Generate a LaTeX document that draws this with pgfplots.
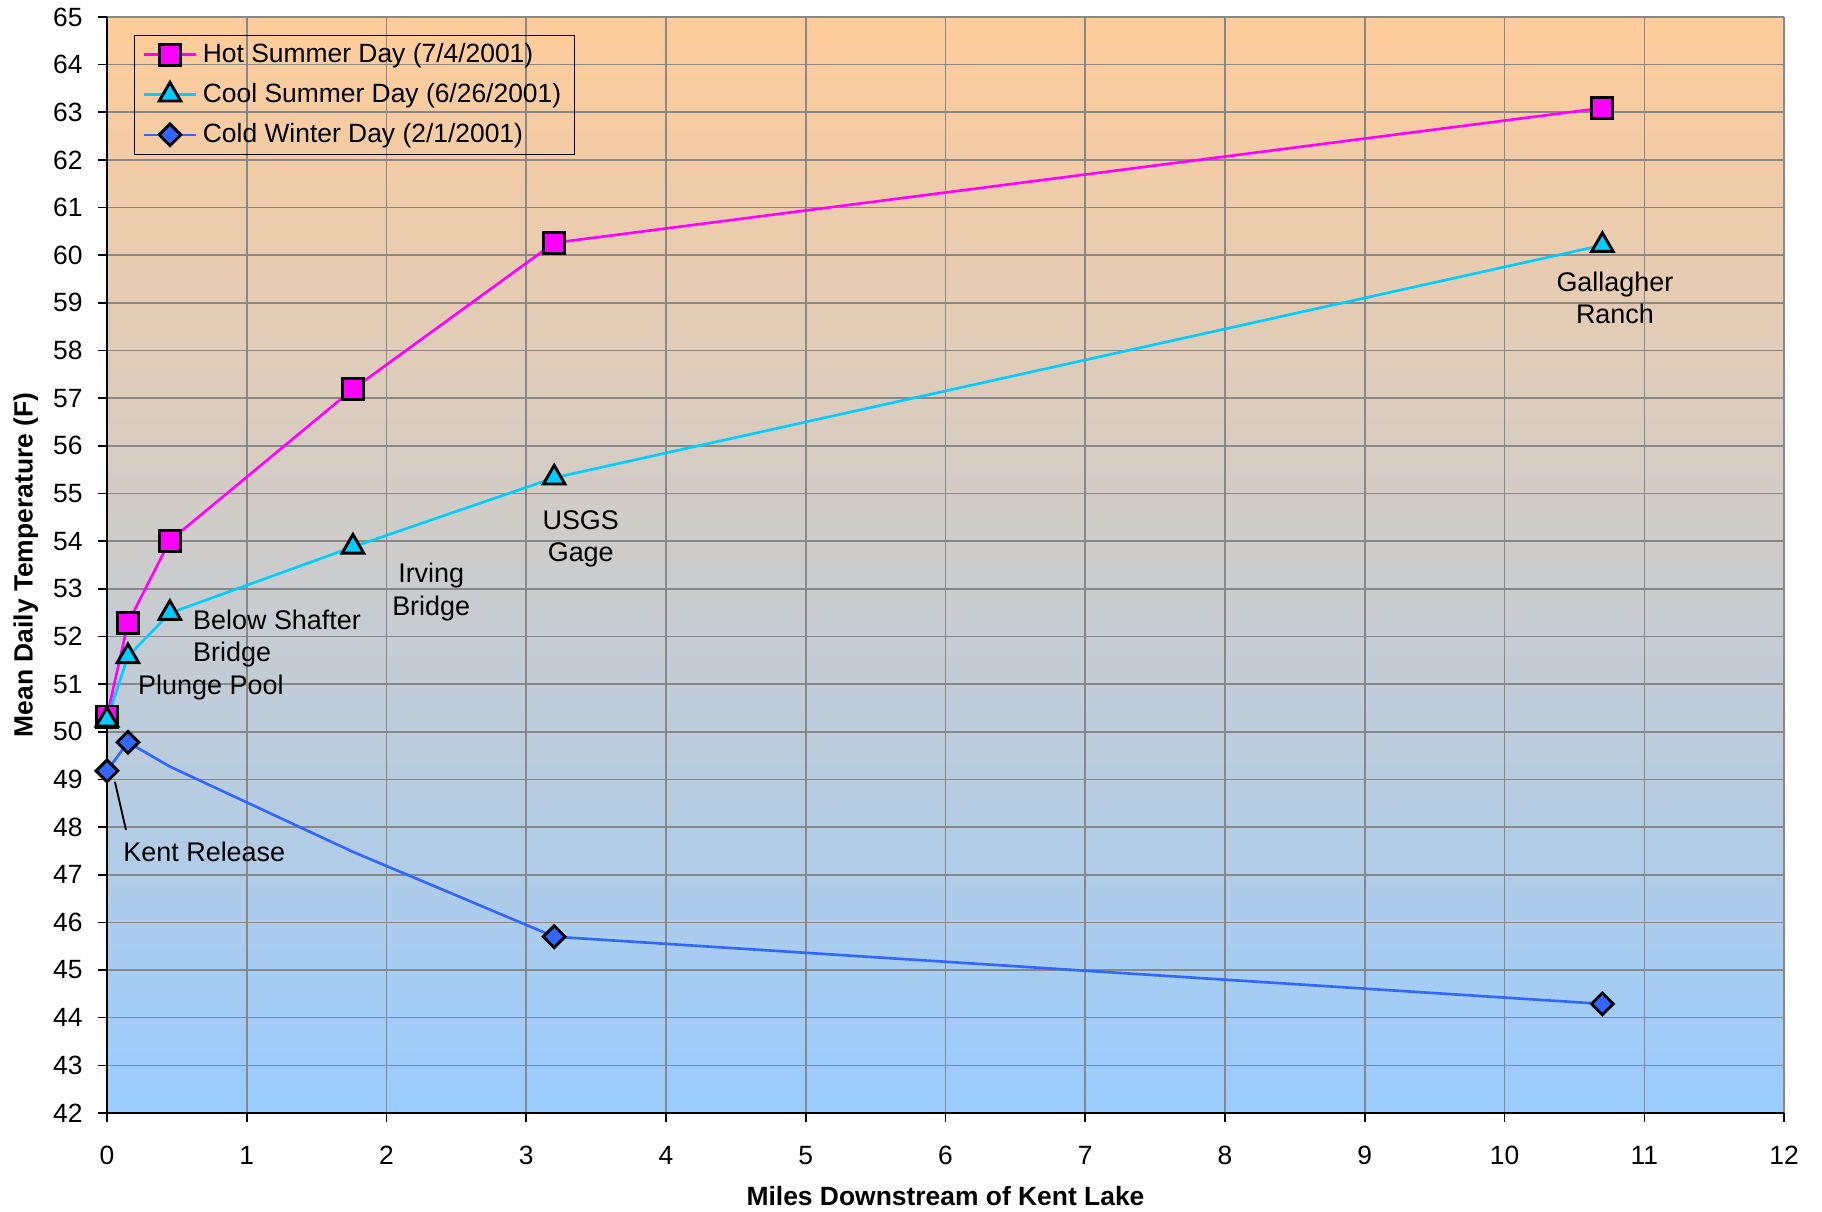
\documentclass[border=0pt]{standalone}
\usepackage{fontspec}
\setmainfont{Liberation Sans}
\usepackage{pgfplots}
\pgfplotsset{compat=1.18}
\usetikzlibrary{calc}

\definecolor{hotc}{RGB}{255,0,255}
\definecolor{coolc}{RGB}{0,204,255}
\definecolor{coldc}{RGB}{51,102,255}
\definecolor{bgtop}{RGB}{255,204,153}
\definecolor{bgbot}{RGB}{153,204,255}
\definecolor{gridc}{RGB}{136,136,136}

\begin{document}
\begin{tikzpicture}
\begin{axis}[
  scale only axis,
  width=22.31cm, height=14.58cm,
  xmin=0, xmax=12, ymin=42, ymax=65,
  xtick={0,...,12}, ytick={42,...,65},
  grid=major,
  major grid style={gridc, line width=0.6pt},
  axis background/.style={shade, top color=bgtop, bottom color=bgbot},
  axis x line*=bottom, axis y line*=left,
  axis line style={black, line width=0.9pt},
  tick align=outside,
  major tick length=0.12cm,
  tick style={black, line width=0.6pt},
  /pgf/number format/assume math mode=true,
  ticklabel style={font=\fontsize{10}{12}\selectfont},
  xticklabel style={yshift=-0.2cm},
  yticklabel style={xshift=-0.08cm},
  xlabel={\textbf{Miles Downstream of Kent Lake}},
  ylabel={\textbf{Mean Daily Temperature (F)}},
  every axis x label/.style={at={(rel axis cs:0.5,0)}, yshift=-1.11cm, anchor=center, font=\fontsize{10}{12}\selectfont},
  every axis y label/.style={at={(rel axis cs:0,0.5)}, xshift=-1.08cm, rotate=90, anchor=center, font=\fontsize{10}{12}\selectfont},
  legend style={at={(rel axis cs:0.0159,0.984)}, anchor=north west, draw=black, line width=0.6pt,
    fill=none, font=\fontsize{10}{11.5}\selectfont, row sep=2.4pt, inner xsep=3pt, inner ysep=1pt,
    cells={anchor=west}},
  legend image code/.code={\draw[mark repeat=2, mark phase=2] plot coordinates {(0cm,0cm) (0.35cm,0cm) (0.7cm,0cm)};},
  clip=false,
]
% Hot summer day
\addplot[hotc, line width=1pt, mark=square*, mark size=4pt,
  mark options={fill=hotc, draw=black, line width=1.1pt}]
  coordinates {(0,50.32) (0.15,52.28) (0.45,54.01) (1.76,57.19) (3.2,60.26) (10.7,63.09)};
\addlegendentry{Hot Summer Day (7/4/2001)}
% Cool summer day
\addplot[coolc, line width=1pt, mark=triangle*, mark size=4.7pt,
  mark options={fill=coolc, draw=black, line width=1.1pt}]
  coordinates {(0,50.25) (0.15,51.58) (0.45,52.49) (1.76,53.88) (3.2,55.33) (10.7,60.21)};
\addlegendentry{Cool Summer Day (6/26/2001)}
% Cold winter day (no markers at the 0.45 and 1.76 mile stations)
\addplot[coldc, line width=1pt, mark=square*, mark size=2.9pt, mark indices={1,2,5,6},
  mark options={fill=coldc, draw=black, line width=1.1pt, rotate=45},
  legend image code/.code={\draw[mark indices={2}] plot coordinates {(0cm,0cm) (0.35cm,0cm) (0.7cm,0cm)};}]
  coordinates {(0,49.18) (0.15,49.78) (0.45,49.27) (1.76,47.48) (3.2,45.70) (10.7,44.29)};
\addlegendentry{Cold Winter Day (2/1/2001)}

% station names
\begin{scope}[every node/.style={font=\fontsize{10.2}{12.3}\selectfont, inner sep=0pt}]
\node[anchor=west] at (axis cs:0.114,47.48) {Kent Release};
\draw[black, line width=0.7pt] (axis cs:0.057,48.95) -- (axis cs:0.136,47.94);
\node[anchor=west] at (axis cs:0.22,50.92) {Plunge Pool};
\node[anchor=west, align=left] at (axis cs:0.613,51.96) {Below Shafter\\Bridge};
\node[align=center] at (axis cs:2.32,52.93) {Irving\\Bridge};
\node[align=center] at (axis cs:3.39,54.05) {USGS\\Gage};
\node[align=center] at (axis cs:10.79,59.11) {Gallagher\\Ranch};
\end{scope}
\end{axis}
\pgfresetboundingbox
\useasboundingbox ($(current axis.south west)+(-1.423cm,-1.317cm)$) rectangle ($(current axis.north east)+(0.505cm,0.226cm)$);
\end{tikzpicture}
\end{document}
